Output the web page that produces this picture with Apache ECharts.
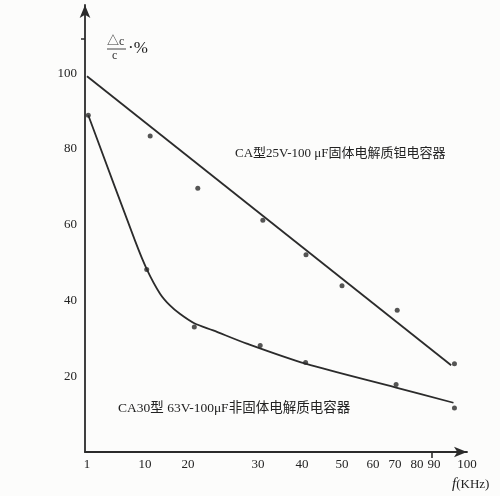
<!DOCTYPE html>
<html>
<head>
<meta charset="utf-8">
<script src="https://cdn.jsdelivr.net/npm/echarts@6/dist/echarts.min.js"></script>
<style>html,body{margin:0;padding:0;background:#fcfcfb;}#c{width:500px;height:496px;}</style>
</head>
<body>
<div id="c"></div>
<script>
// x axis tick labels (kHz) and their relative placement on the hand-drawn axis
const xTickValues = [1, 10, 20, 30, 40, 50, 60, 70, 80, 90, 100];
const xTickPos    = [2, 60, 103, 173, 217, 257, 288, 310, 332, 349, 382];
const yTickLabels = [20, 40, 60, 80, 100];

// CA 25V-100uF solid tantalum: measured points and fitted straight line
const tantalumX = [11.2, 21.4, 31.1, 41, 50, 71, 96.2];
const tantalumY = [83.4, 69.6, 61.2, 52.1, 43.9, 37.4, 23.3];
const tantalumFitX = [1, 95.2];
const tantalumFitY = [99.2, 22.9];

// CA30 63V-100uF non-solid electrolytic: measured points and fitted curve
const nonSolidX = [1.2, 10.4, 20.9, 30.5, 40.9, 70.5, 96.2];
const nonSolidY = [88.9, 48.2, 33.0, 28.1, 23.6, 17.8, 11.6];
const nonSolidFitX = [1.2, 8.45, 10.4, 13.5, 15.8, 18.1, 20.9, 23.6, 28.4, 40.9, 70.5, 95.9];
const nonSolidFitY = [88.9, 55.8, 48.3, 41.8, 38.7, 36.5, 34.0, 32.1, 28.6, 23.3, 17.0, 13.0];

function toPos(v) {
  for (let i = 0; i < xTickValues.length - 1; i++) {
    const a = xTickValues[i], b = xTickValues[i + 1];
    if (v <= b || i === xTickValues.length - 2) {
      const t = (v - a) / (b - a);
      return xTickPos[i] + t * (xTickPos[i + 1] - xTickPos[i]);
    }
  }
}
function pairs(xs, ys) { return xs.map((x, i) => [toPos(x), ys[i]]); }

const serif = "'Liberation Serif','Noto Sans CJK SC',serif";
const ink = '#2b2b2b';

const chart = echarts.init(document.getElementById('c'));
chart.setOption({
  animation: false,
  backgroundColor: '#fcfcfb',
  grid: { left: 85, right: 33, top: 5, bottom: 44, outerBoundsMode: 'none' },
  xAxis: {
    type: 'value', min: 0, max: 382,
    axisLine: { show: true, lineStyle: { color: ink, width: 1.8 }, symbol: ['none', 'arrow'], symbolSize: [8, 13], onZero: false },
    splitLine: { show: false },
    axisTick: { show: true, customValues: [toPos(90) - 2], length: 6, lineStyle: { color: ink, width: 1.6 } },
    axisLabel: {
      customValues: xTickPos,
      formatter: (v) => { const i = xTickPos.indexOf(v); return i >= 0 ? String(xTickValues[i]) : ''; },
      color: '#222', fontFamily: serif, fontSize: 13, margin: 6
    }
  },
  yAxis: {
    type: 'value', min: 0, max: 118,
    axisLine: { show: true, lineStyle: { color: ink, width: 1.8 }, symbol: ['none', 'arrow'], symbolSize: [8, 13], onZero: false },
    splitLine: { show: false },
    axisTick: { show: true, customValues: [109], length: 4, lineStyle: { color: ink, width: 1.5 } },
    axisLabel: { customValues: yTickLabels, color: '#222', fontFamily: serif, fontSize: 13, margin: 8 }
  },
  series: [
    { type: 'line', data: pairs(tantalumFitX, tantalumFitY), symbol: 'none', lineStyle: { color: ink, width: 1.8 } },
    { type: 'line', data: pairs(nonSolidFitX, nonSolidFitY), symbol: 'none', smooth: 0.3, lineStyle: { color: ink, width: 1.8 } },
    { type: 'scatter', data: pairs(tantalumX, tantalumY), symbolSize: 5, itemStyle: { color: ink } },
    { type: 'scatter', data: pairs(nonSolidX, nonSolidY), symbolSize: 5, itemStyle: { color: ink } }
  ],
  graphic: [
    { type: 'text', left: 107, top: 36, style: { text: '△c', fontFamily: serif, fontSize: 12, fill: '#333' } },
    { type: 'line', shape: { x1: 107, y1: 49, x2: 126, y2: 49 }, style: { stroke: '#444', lineWidth: 1 } },
    { type: 'text', left: 112, top: 50, style: { text: 'c', fontFamily: serif, fontSize: 12, fill: '#333' } },
    { type: 'text', left: 128, top: 40, style: { text: '·%', fontFamily: serif, fontSize: 17, fill: '#222' } },
    { type: 'text', left: 235, top: 147, style: { text: 'CA型25V-100 μF固体电解质钽电容器', fontFamily: serif, fontSize: 13, fill: '#222' } },
    { type: 'text', left: 118, top: 402, style: { text: 'CA30型 63V-100μF非固体电解质电容器', fontFamily: serif, fontSize: 13.5, fill: '#222' } },
    { type: 'text', left: 452, top: 477, style: {
        text: '{f|f}{u|(KHz)}',
        rich: { f: { fontFamily: serif, fontStyle: 'italic', fontSize: 15, fill: '#222' }, u: { fontFamily: serif, fontSize: 13, fill: '#222' } }
      } }
  ]
});
</script>
</body>
</html>
